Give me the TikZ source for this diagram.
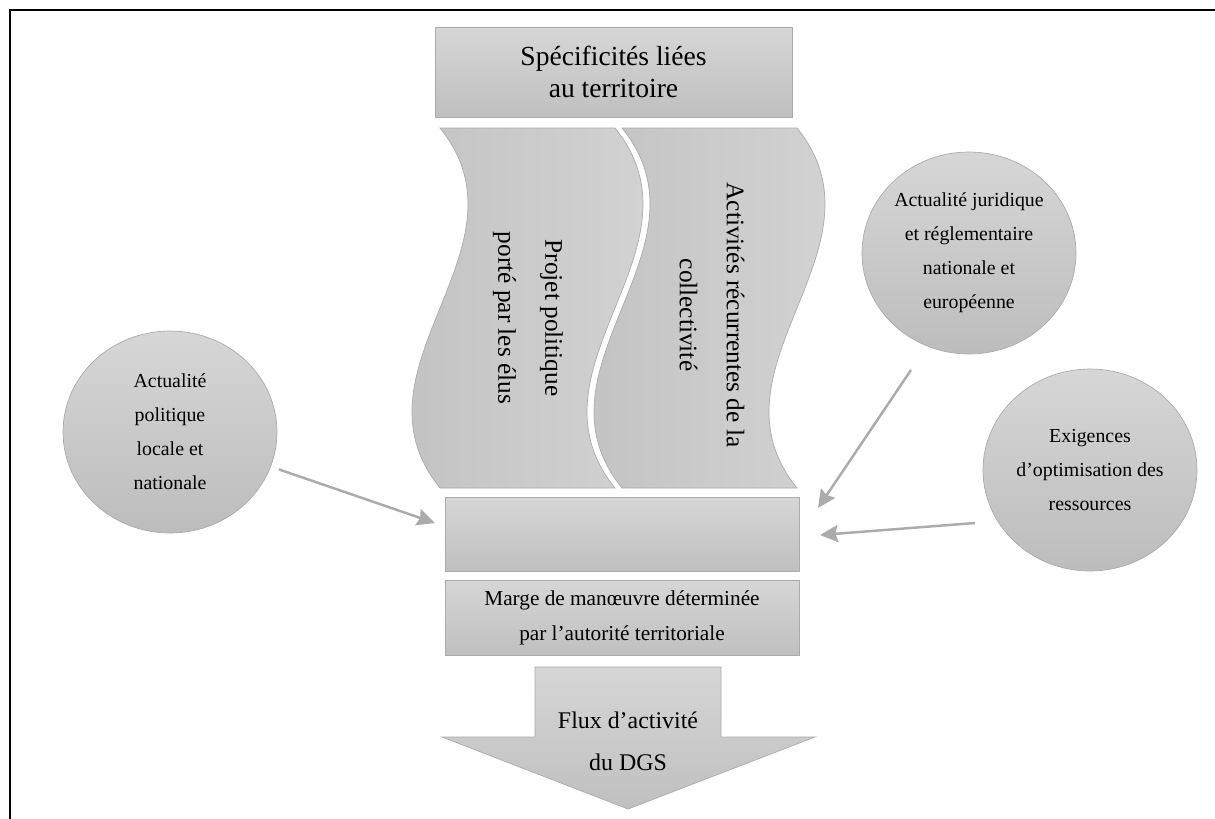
\documentclass[tikz,border=0pt]{standalone}
\usepackage{fontspec}
\setmainfont{Liberation Serif}
\usetikzlibrary{shapes.geometric,arrows.meta}

\begin{document}
\begin{tikzpicture}[x=0.02cm,y=-0.02cm,
        flatbox/.style={draw=black!33,top color=black!16,bottom color=black!25,inner sep=0pt,align=center},
        bubble/.style={ellipse,draw=black!33,top color=black!16,bottom color=black!26,minimum width=4.28cm,minimum height=4.04cm,inner sep=0pt,align=center,font=\fontsize{11.3}{19.3}\selectfont},
        wave/.style={draw=black!33,left color=black!25,right color=black!16},
        push/.style={draw=black!33,line width=1.4pt,-{Stealth[length=0.36cm,width=0.34cm,inset=0.05cm]}}]
        \useasboundingbox (0,0) rectangle (1215,819);
        %% frame
        \draw[line width=1.3pt] (10,819) -- (10,10) -- (1215,10);
        %% territoire
        \node[flatbox,minimum width=7.14cm,minimum height=1.8cm,font=\fontsize{15.7}{18.2}\selectfont] (terr) at (613.5,72) {Spécificités liées\\au territoire};
        %% the two waves
        \foreach \xa/\xb in {440/615,622/797}
            \draw[wave] (\xa,128) -- (\xb,128) .. controls (\xb+97,248) and (\xb-97,368) .. (\xb,488)
                -- (\xa,488) .. controls (\xa-97,368) and (\xa+97,248) .. (\xa,128) -- cycle;
        \node[rotate=-90,align=center,font=\fontsize{14.4}{26.7}\selectfont] (proj) at (528,318) {Projet politique\\porté par les élus};
        \node[rotate=-90,align=center,font=\fontsize{14.4}{26.7}\selectfont] (recu) at (712,315) {Activités récurrentes de la\\collectivité};
        %% boxes
        \node[flatbox,minimum width=7.08cm,minimum height=1.48cm] (mix) at (622,534) {};
        \node[flatbox,minimum width=7.08cm,minimum height=1.5cm,font=\fontsize{12.1}{19.9}\selectfont] (marge) at (622,617.5) {Marge de manœuvre déterminée\\par l’autorité territoriale};
        %% flow arrow
        \draw[draw=black!33,top color=black!16,bottom color=black!25] (535,667) -- (721,667) -- (721,737) -- (815,737) -- (628,809) -- (442,737) -- (535,737) -- cycle;
        \node[align=center,font=\fontsize{13.6}{23.8}\selectfont] (flux) at (628,741) {Flux d’activité\\du DGS};
        %% bubbles
        \node[bubble] (pol) at (170,432) {Actualité\\politique\\locale et\\nationale};
        \node[bubble] (jur) at (969,253) {Actualité juridique\\et réglementaire\\nationale et\\européenne};
        \node[bubble] (opt) at (1090,470) {Exigences\\d’optimisation des\\ressources};
        %% influences
        \coordinate (polTip) at (435,523);
        \coordinate (jurFoot) at (911,370);
        \coordinate (jurTip) at (818,508);
        \coordinate (optFoot) at (975,523);
        \coordinate (optTip) at (820,535);
        \draw[push,shorten <=0.17cm] (pol) -- (polTip);
        \draw[push] (jurFoot) -- (jurTip);
        \draw[push] (optFoot) -- (optTip);
\end{tikzpicture}
\end{document}
